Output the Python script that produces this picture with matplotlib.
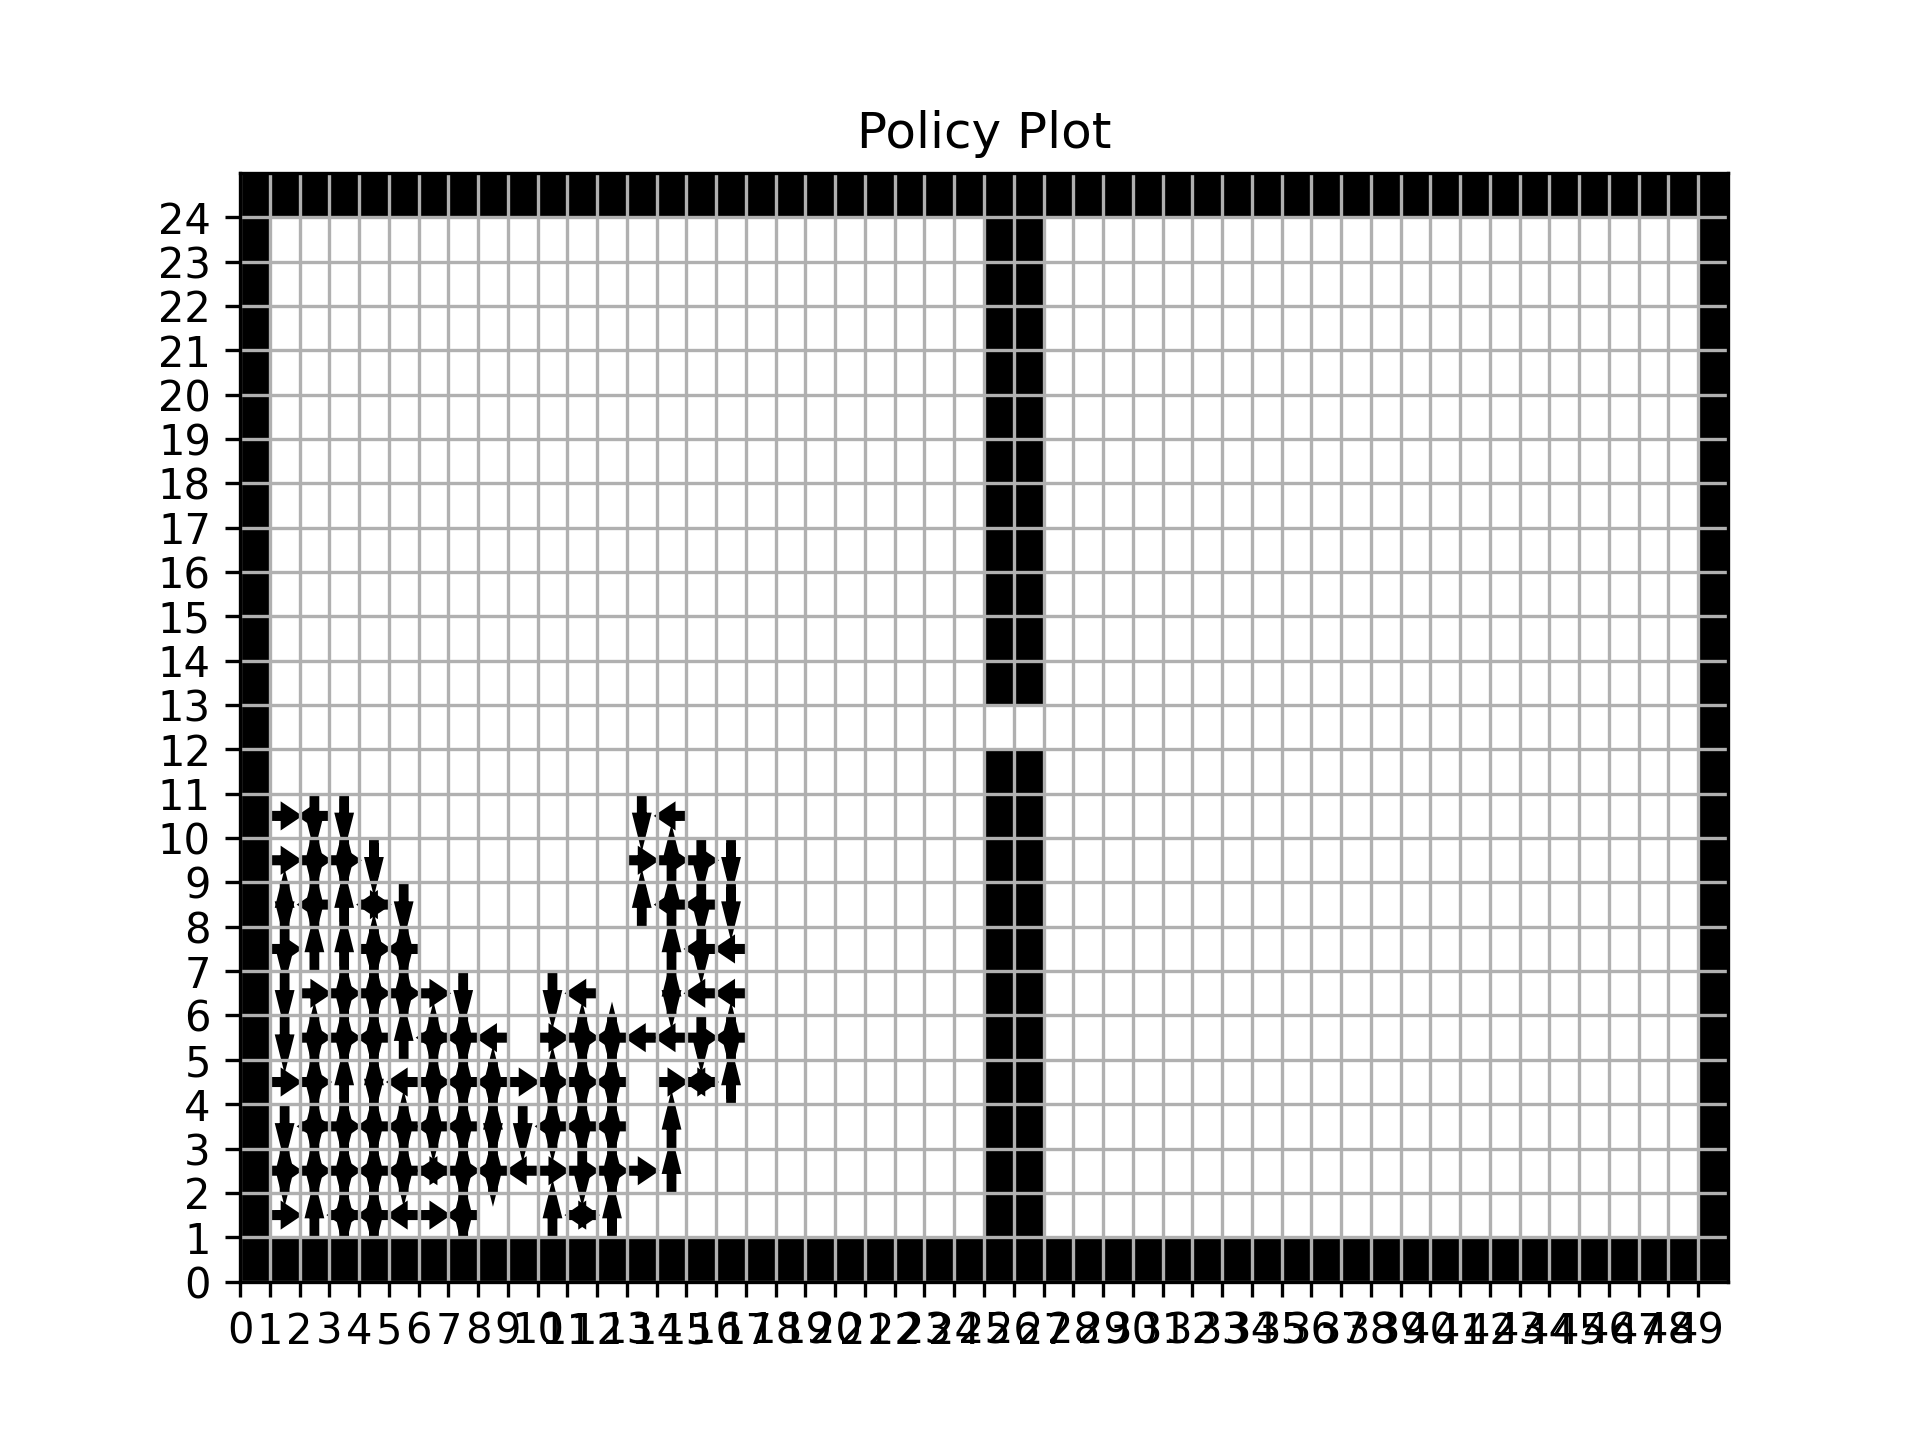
import numpy as np
import matplotlib
matplotlib.use("Agg")
import matplotlib.pyplot as plt

# ---- grid world layout ----
grid_width = 50
grid_height = 25
wall_columns = [25, 26]
door_rows = [12]

# ---- policy: (x, y, actions) with U/D/L/R ----
policy_cells = [
    # row 10
    (1, 10, "R"), (2, 10, "LD"), (3, 10, "D"), (13, 10, "D"), (14, 10, "L"),
    # row 9
    (1, 9, "R"), (2, 9, "UDR"), (3, 9, "UDR"), (4, 9, "D"), (13, 9, "R"),
    (14, 9, "UR"), (15, 9, "DR"), (16, 9, "D"),
    # row 8
    (1, 8, "UD"), (2, 8, "UDL"), (3, 8, "U"), (4, 8, "LR"), (5, 8, "D"),
    (13, 8, "U"), (14, 8, "UL"), (15, 8, "DL"), (16, 8, "D"),
    # row 7
    (1, 7, "DR"), (2, 7, "U"), (3, 7, "U"), (4, 7, "UDR"), (5, 7, "UDL"),
    (14, 7, "U"), (15, 7, "DL"), (16, 7, "L"),
    # row 6
    (1, 6, "D"), (2, 6, "R"), (3, 6, "UDR"), (4, 6, "UDR"), (5, 6, "UDR"),
    (6, 6, "R"), (7, 6, "D"), (10, 6, "D"), (11, 6, "L"),
    (14, 6, "UD"), (15, 6, "L"), (16, 6, "L"),
    # row 5
    (1, 5, "D"), (2, 5, "UDR"), (3, 5, "UDR"), (4, 5, "UDL"), (5, 5, "U"),
    (6, 5, "UDLR"), (7, 5, "UDL"), (8, 5, "L"), (10, 5, "R"), (11, 5, "UDR"),
    (12, 5, "UDL"), (13, 5, "L"), (14, 5, "L"), (15, 5, "DR"), (16, 5, "UDL"),
    # row 4
    (1, 4, "R"), (2, 4, "UDR"), (3, 4, "U"), (4, 4, "UD"), (5, 4, "L"),
    (6, 4, "UDR"), (7, 4, "UDL"), (8, 4, "UDL"), (9, 4, "R"), (10, 4, "UDR"),
    (11, 4, "UDR"), (12, 4, "UDL"), (14, 4, "R"), (15, 4, "LR"), (16, 4, "U"),
    # row 3
    (1, 3, "D"), (2, 3, "UDLR"), (3, 3, "UDR"), (4, 3, "UDL"), (5, 3, "UDL"),
    (6, 3, "UDL"), (7, 3, "UDL"), (8, 3, "UD"), (9, 3, "D"), (10, 3, "UDL"),
    (11, 3, "UDL"), (12, 3, "UDL"), (14, 3, "U"),
    # row 2
    (1, 2, "UDR"), (2, 2, "UDR"), (3, 2, "UDR"), (4, 2, "UDL"), (5, 2, "UDL"),
    (6, 2, "LR"), (7, 2, "UDR"), (8, 2, "UDL"), (9, 2, "L"), (10, 2, "R"),
    (11, 2, "DR"), (12, 2, "UDR"), (13, 2, "R"), (14, 2, "U"),
    # row 1
    (1, 1, "R"), (2, 1, "U"), (3, 1, "UDLR"), (4, 1, "UDL"), (5, 1, "L"),
    (6, 1, "R"), (7, 1, "UDL"), (10, 1, "U"), (11, 1, "LR"), (12, 1, "U"),
]

directions = {"U": (0, 1), "D": (0, -1), "L": (-1, 0), "R": (1, 0)}

# ---- build wall map ----
walls = np.zeros((grid_height, grid_width))
walls[0, :] = 1
walls[-1, :] = 1
walls[:, 0] = 1
walls[:, -1] = 1
for c in wall_columns:
    walls[:, c] = 1
for r in door_rows:
    for c in wall_columns:
        walls[r, c] = 0

fig, ax = plt.subplots(figsize=(6.4, 4.8), dpi=300)
ax.imshow(walls, cmap="binary", origin="lower", extent=[0, grid_width, 0, grid_height],
          aspect="auto", interpolation="nearest", vmin=0, vmax=1)

for x, y, acts in policy_cells:
    cx, cy = x + 0.5, y + 0.5
    for a in acts:
        dx, dy = directions[a]
        L = 0.64 if dx != 0 else 0.78
        hl = 0.3 if dx != 0 else 0.36
        ax.arrow(cx - dx * L / 2, cy - dy * L / 2, dx * L, dy * L,
                 width=0.02, head_width=0.27, head_length=hl,
                 length_includes_head=True, fc="C0", ec="black", lw=2.2)

ax.set_xticks(range(grid_width))
ax.set_yticks(range(grid_height))
ax.set_xlim(0, grid_width)
ax.set_ylim(0, grid_height)
ax.grid(True)
ax.set_title("Policy Plot")
fig.savefig("out.png", dpi=300)
